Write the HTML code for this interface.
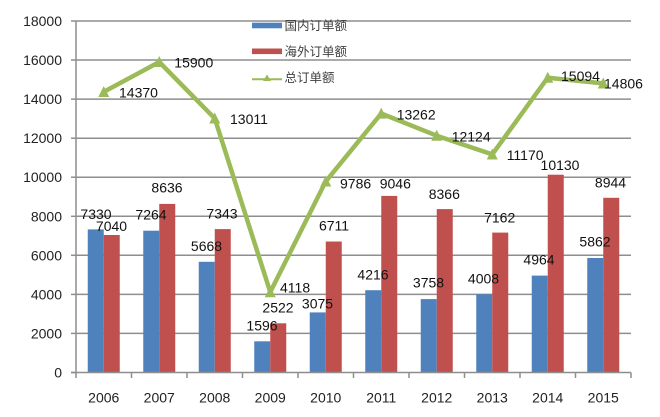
<!DOCTYPE html>
<html><head><meta charset="utf-8"><style>
html,body{margin:0;padding:0;background:#fff;}
svg{display:block;}
text{font-family:"Liberation Sans","Noto Sans CJK SC",sans-serif;}
</style></head><body>
<svg width="660" height="417" viewBox="0 0 660 417" xmlns="http://www.w3.org/2000/svg">
<rect width="660" height="417" fill="#fff"/>
<!-- gridlines -->
<g stroke="#8e8e8e" stroke-width="1.5">
<line x1="76" y1="333.4" x2="631" y2="333.4"/>
<line x1="76" y1="294.4" x2="631" y2="294.4"/>
<line x1="76" y1="255.3" x2="631" y2="255.3"/>
<line x1="76" y1="216.3" x2="631" y2="216.3"/>
<line x1="76" y1="177.2" x2="631" y2="177.2"/>
<line x1="76" y1="138.2" x2="631" y2="138.2"/>
<line x1="76" y1="99.1" x2="631" y2="99.1"/>
<line x1="76" y1="60.0" x2="631" y2="60.0"/>
<line x1="76" y1="21.0" x2="631" y2="21.0"/>
</g>
<!-- y tick marks -->
<g stroke="#8e8e8e" stroke-width="1.5">
<line x1="71" y1="372.5" x2="76" y2="372.5"/>
<line x1="71" y1="333.4" x2="76" y2="333.4"/>
<line x1="71" y1="294.4" x2="76" y2="294.4"/>
<line x1="71" y1="255.3" x2="76" y2="255.3"/>
<line x1="71" y1="216.3" x2="76" y2="216.3"/>
<line x1="71" y1="177.2" x2="76" y2="177.2"/>
<line x1="71" y1="138.2" x2="76" y2="138.2"/>
<line x1="71" y1="99.1" x2="76" y2="99.1"/>
<line x1="71" y1="60.0" x2="76" y2="60.0"/>
<line x1="71" y1="21.0" x2="76" y2="21.0"/>
</g>
<!-- bars -->
<g fill="#4f81bd">
<rect x="87.75" y="229.4" width="16" height="143.1"/>
<rect x="143.25" y="230.7" width="16" height="141.8"/>
<rect x="198.75" y="261.8" width="16" height="110.7"/>
<rect x="254.25" y="341.3" width="16" height="31.2"/>
<rect x="309.75" y="312.4" width="16" height="60.1"/>
<rect x="365.25" y="290.2" width="16" height="82.3"/>
<rect x="420.75" y="299.1" width="16" height="73.4"/>
<rect x="476.25" y="294.2" width="16" height="78.3"/>
<rect x="531.75" y="275.6" width="16" height="96.9"/>
<rect x="587.25" y="258.0" width="16" height="114.5"/>
</g>
<g fill="#c0504d">
<rect x="103.75" y="235.0" width="16" height="137.5"/>
<rect x="159.25" y="203.9" width="16" height="168.6"/>
<rect x="214.75" y="229.1" width="16" height="143.4"/>
<rect x="270.25" y="323.3" width="16" height="49.2"/>
<rect x="325.75" y="241.5" width="16" height="131.0"/>
<rect x="381.25" y="195.9" width="16" height="176.6"/>
<rect x="436.75" y="209.1" width="16" height="163.4"/>
<rect x="492.25" y="232.6" width="16" height="139.9"/>
<rect x="547.75" y="174.7" width="16" height="197.8"/>
<rect x="603.25" y="197.8" width="16" height="174.7"/>
</g>
<!-- axes -->
<g stroke="#8e8e8e" stroke-width="1.5">
<line x1="76" y1="21" x2="76" y2="373"/>
<line x1="71" y1="372.5" x2="631" y2="372.5"/>
<line x1="76" y1="372.5" x2="76" y2="378"/>
<line x1="131.5" y1="372.5" x2="131.5" y2="378"/>
<line x1="187" y1="372.5" x2="187" y2="378"/>
<line x1="242.5" y1="372.5" x2="242.5" y2="378"/>
<line x1="298" y1="372.5" x2="298" y2="378"/>
<line x1="353.5" y1="372.5" x2="353.5" y2="378"/>
<line x1="409" y1="372.5" x2="409" y2="378"/>
<line x1="464.5" y1="372.5" x2="464.5" y2="378"/>
<line x1="520" y1="372.5" x2="520" y2="378"/>
<line x1="575.5" y1="372.5" x2="575.5" y2="378"/>
<line x1="631" y1="372.5" x2="631" y2="378"/>
</g>
<!-- line series -->
<polyline fill="none" stroke="#9bbb59" stroke-width="4.5" stroke-linejoin="round" points="103.75,91.9 159.25,62.0 214.75,118.4 270.25,292.1 325.75,181.4 381.25,113.5 436.75,135.7 492.25,154.4 547.75,77.7 603.25,83.4"/>
<g fill="#9bbb59">
<polygon points="103.75,86 98.25,97 109.25,97"/>
<polygon points="159.25,56 153.75,67 164.75,67"/>
<polygon points="214.75,112.5 209.25,123.5 220.25,123.5"/>
<polygon points="270.25,286.2 264.75,297.2 275.75,297.2"/>
<polygon points="325.75,175.5 320.25,186.5 331.25,186.5"/>
<polygon points="381.25,107.6 375.75,118.6 386.75,118.6"/>
<polygon points="436.75,129.8 431.25,140.8 442.25,140.8"/>
<polygon points="492.25,148.5 486.75,159.5 497.75,159.5"/>
<polygon points="547.75,71.8 542.25,82.8 553.25,82.8"/>
<polygon points="603.25,77.5 597.75,88.5 608.75,88.5"/>
</g>
<!-- y labels -->
<g font-size="14" fill="#222" text-anchor="end">
<text x="62" y="377.5">0</text>
<text x="62" y="338.4">2000</text>
<text x="62" y="299.4">4000</text>
<text x="62" y="260.3">6000</text>
<text x="62" y="221.3">8000</text>
<text x="62" y="182.2">10000</text>
<text x="62" y="143.2">12000</text>
<text x="62" y="104.1">14000</text>
<text x="62" y="65.0">16000</text>
<text x="62" y="26.0">18000</text>
</g>
<!-- x labels -->
<g font-size="14" fill="#222" text-anchor="middle">
<text x="103.75" y="402.7">2006</text>
<text x="159.25" y="402.7">2007</text>
<text x="214.75" y="402.7">2008</text>
<text x="270.25" y="402.7">2009</text>
<text x="325.75" y="402.7">2010</text>
<text x="381.25" y="402.7">2011</text>
<text x="436.75" y="402.7">2012</text>
<text x="492.25" y="402.7">2013</text>
<text x="547.75" y="402.7">2014</text>
<text x="603.25" y="402.7">2015</text>
</g>
<!-- bar labels -->
<g font-size="14" fill="#111" text-anchor="middle">
<text x="96" y="219">7330</text>
<text x="111.5" y="231">7040</text>
<text x="151" y="219.3">7264</text>
<text x="167" y="192.3">8636</text>
<text x="206.5" y="251">5668</text>
<text x="222" y="218.7">7343</text>
<text x="262" y="330.7">1596</text>
<text x="278" y="312.3">2522</text>
<text x="317.5" y="308.3">3075</text>
<text x="334" y="230.7">6711</text>
<text x="373" y="279.3">4216</text>
<text x="395.3" y="188.3">9046</text>
<text x="428.5" y="287.7">3758</text>
<text x="444.3" y="199">8366</text>
<text x="483.5" y="283.3">4008</text>
<text x="499.7" y="222.3">7162</text>
<text x="539" y="264.3">4964</text>
<text x="560" y="170">10130</text>
<text x="595" y="246.7">5862</text>
<text x="610.5" y="187.7">8944</text>
</g>
<!-- line labels -->
<g font-size="14" fill="#111">
<text x="119" y="97.7">14370</text>
<text x="174.3" y="67.7">15900</text>
<text x="230" y="124">13011</text>
<text x="280" y="292.7">4118</text>
<text x="340" y="188.3">9786</text>
<text x="396.7" y="119.3">13262</text>
<text x="451.7" y="141.7">12124</text>
<text x="506.7" y="160">11170</text>
<text x="561" y="81">15094</text>
<text x="604" y="88.3">14806</text>
</g>
<!-- legend -->
<rect x="252" y="22.7" width="30" height="5.6" fill="#4f81bd"/>
<rect x="252" y="48.5" width="30" height="5.6" fill="#c0504d"/>
<line x1="252" y1="79.3" x2="282" y2="79.3" stroke="#9bbb59" stroke-width="2"/>
<polygon points="267,74.5 263,81 271,81" fill="#9bbb59"/>
<g font-size="12.5" fill="#404040">
<text x="284.5" y="30.2">国内订单额</text>
<text x="284.5" y="56.2">海外订单额</text>
<text x="284.5" y="82.2">总订单额</text>
</g>
</svg>
</body></html>
